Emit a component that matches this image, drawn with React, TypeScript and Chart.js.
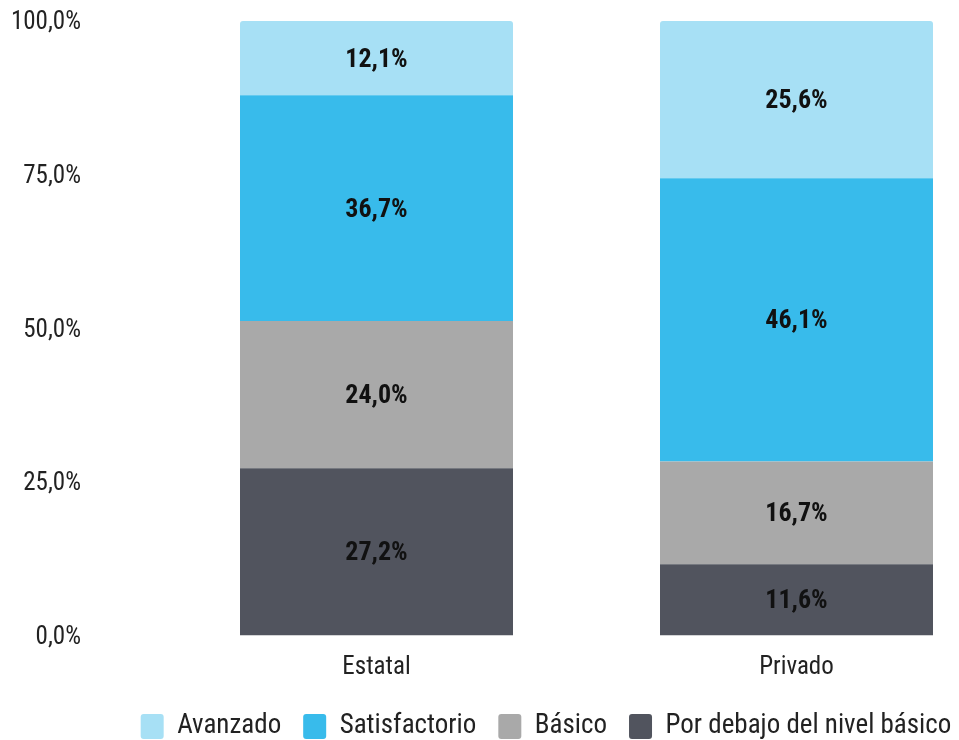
import React, { useEffect, useRef } from "react";
import { Chart, registerables } from "chart.js";

Chart.register(...registerables);

const categories = ["Estatal", "Privado"];
const seriesNames = ["Por debajo del nivel básico", "Básico", "Satisfactorio", "Avanzado"];
const porDebajo = [27.2, 11.6];
const basico = [24.0, 16.7];
const satisfactorio = [36.7, 46.1];
const avanzado = [12.1, 25.6];
const yTicks = [0, 25, 50, 75, 100];

const colors = ["#51545E", "#A9A9A9", "#38BBEB", "#A7E0F5"];
const FONT = "'Roboto Condensed', Roboto, sans-serif";

const fmt = (v: number) => v.toFixed(1).replace(".", ",") + "%";

const labelPlugin = {
  id: "segLabels",
  afterDatasetsDraw(chart: any) {
    const ctx = chart.ctx;
    ctx.save();
    ctx.font = `bold 26px ${FONT}`;
    ctx.fillStyle = "#111111";
    ctx.textAlign = "center";
    ctx.textBaseline = "middle";
    chart.data.datasets.forEach((ds: any, di: number) => {
      const meta = chart.getDatasetMeta(di);
      meta.data.forEach((el: any, i: number) => {
        const p = el.getProps(["x", "y", "base"], true);
        ctx.fillText(fmt(ds.data[i]), p.x, (p.y + p.base) / 2 + 2);
      });
    });
    ctx.restore();
  },
};

export default function App() {
  const ref = useRef<HTMLCanvasElement>(null);
  useEffect(() => {
    const data = [porDebajo, basico, satisfactorio, avanzado];
    const chart = new Chart(ref.current!, {
      type: "bar",
      data: {
        labels: categories,
        datasets: seriesNames.map((name, k) => ({
          label: name,
          data: data[k],
          backgroundColor: colors[k],
          borderWidth: 0,
          borderRadius: k === 3 ? { topLeft: 3, topRight: 3, bottomLeft: 0, bottomRight: 0 } : 0,
          borderSkipped: false,
          barPercentage: 0.65,
          categoryPercentage: 1,
        })),
      },
      options: {
        animation: false,
        responsive: false,
        layout: { padding: { top: 13, right: 0, left: 0, bottom: 0 } },
        scales: {
          x: {
            stacked: true,
            grid: { display: false, drawTicks: false },
            border: { display: false },
            ticks: { color: "#222", font: { family: FONT, size: 25 }, padding: 17 },
            afterFit: (axis: any) => {
              axis.height = 55.5;
            },
          },
          y: {
            stacked: true,
            min: 0,
            max: 100,
            afterBuildTicks: (axis: any) => {
              axis.ticks = yTicks.map((v) => ({ value: v }));
            },
            afterFit: (axis: any) => {
              axis.width = 158.5;
              axis.paddingTop = 0;
              axis.paddingBottom = 0;
            },
            grid: { display: false, drawTicks: false },
            border: { display: false },
            ticks: {
              color: "#222",
              font: { family: FONT, size: 25 },
              padding: 85.5,
              labelOffset: 2,
              callback: (v: any) => fmt(Number(v)),
            },
          },
          spacer: {
            type: "linear",
            position: "right",
            display: true,
            grid: { display: false, drawTicks: false },
            border: { display: false },
            ticks: { display: false },
            afterFit: (axis: any) => {
              axis.width = 77.5;
              axis.paddingTop = 0;
              axis.paddingBottom = 0;
            },
          },
        },
        plugins: {
          legend: {
            position: "bottom",
            reverse: true,
            labels: {
              color: "#222",
              font: { family: FONT, size: 27 },
              boxWidth: 23,
              boxHeight: 25,
              useBorderRadius: true,
              borderRadius: 3,
              padding: 22,
            },
          },
          tooltip: { enabled: false },
        },
      },
      plugins: [labelPlugin],
    });
    return () => chart.destroy();
  }, []);
  return (
    <div style={{ width: 951, height: 732, overflow: "hidden" }}>
      <canvas ref={ref} width={1076} height={742} style={{ width: 1076, height: 742 }} />
    </div>
  );
}
